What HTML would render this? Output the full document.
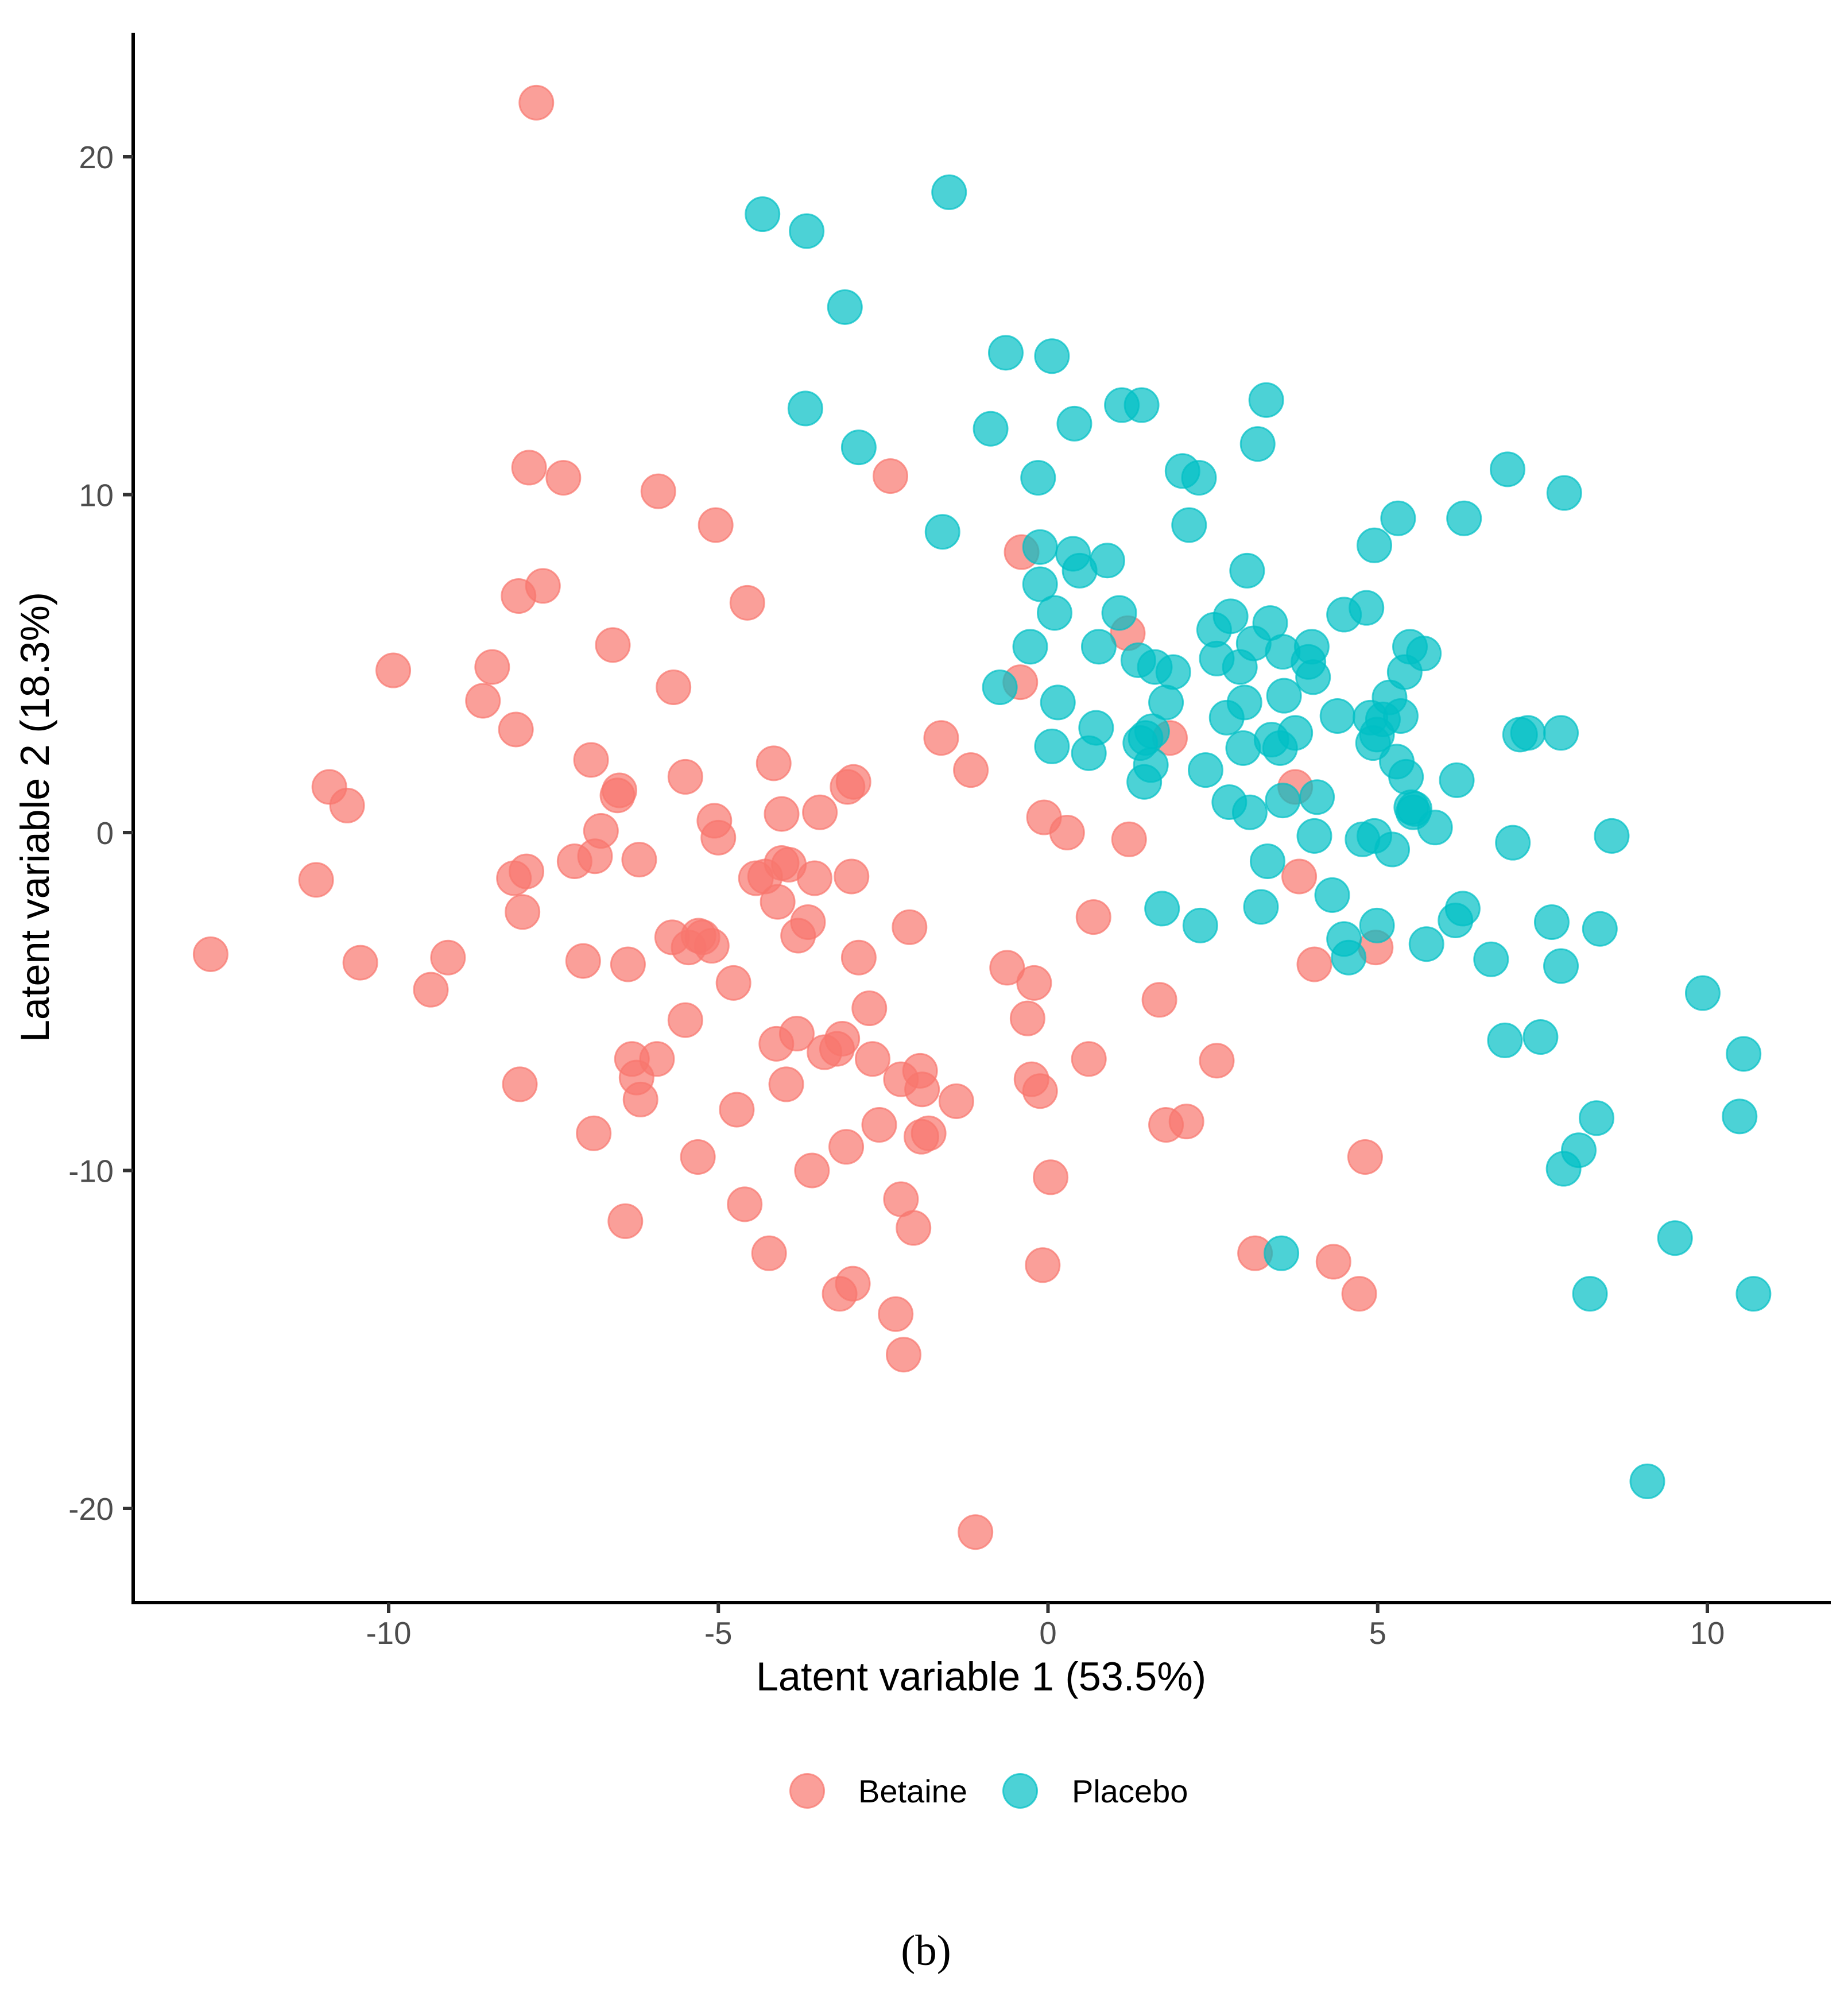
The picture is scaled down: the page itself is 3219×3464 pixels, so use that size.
<!DOCTYPE html>
<html lang="en">
<head>
<meta charset="utf-8">
<title>Latent variable scatter plot</title>
<style>
html,body{margin:0;padding:0;background:#fff;}
svg{display:block;}
text{font-family:"Liberation Sans",sans-serif;}
</style>
</head>
<body>
<svg id="chart" xmlns="http://www.w3.org/2000/svg" width="3219" height="3464" viewBox="0 0 3219 3464">
<rect width="3219" height="3464" fill="#fff"/>
<g id="points"></g>
<g id="axes"></g>
<text x="1709" y="2944" font-size="70.2" text-anchor="middle" fill="#000">Latent variable 1 (53.5%)</text>
<text transform="translate(85 1423) rotate(-90)" font-size="70.2" text-anchor="middle" fill="#000">Latent variable 2 (18.3%)</text>
<g>
<g>
<circle cx="1406" cy="3119" r="29.5" fill="#F8766D" fill-opacity="0.7" stroke="#F8766D" stroke-opacity="0.7" stroke-width="3"/>
<text x="1495" y="3139" font-size="56" fill="#000">Betaine</text>
</g>
<g>
<circle cx="1777" cy="3119" r="29.5" fill="#00BFC4" fill-opacity="0.7" stroke="#00BFC4" stroke-opacity="0.7" stroke-width="3"/>
<text x="1867" y="3139" font-size="56" fill="#000">Placebo</text>
</g>
</g>
<text x="1613" y="3422" font-size="75" text-anchor="middle" fill="#000" style="font-family:'Liberation Serif',serif">(b)</text>
</svg>
<script>
const betaineLv1 = [-7.76,-7.87,-7.35,-5.91,-5.04,-2.39,-0.4,-4.56,-7.66,-8.03,-6.6,-9.93,-8.43,-5.68,-8.57,-8.07,-6.93,-5.5,-4.16,-1.62,-1.17,-0.42,1.21,1.85,3.75,-10.9,-10.63,-6.5,-6.53,-3.04,-2.95,-4.04,-3.46,-5.06,-5.0,-6.78,-7.18,-6.87,-6.2,-0.06,0.29,1.23,-11.1,-8.1,-7.91,-7.97,-4.43,-4.29,-4.04,-3.93,-3.54,-2.98,-4.1,-3.64,-3.79,-2.1,0.69,3.81,-12.7,-10.43,-9.1,-9.36,-7.05,-6.37,-5.7,-5.45,-5.3,-5.24,-5.1,-4.77,-2.87,-0.62,-0.21,-0.31,1.69,4.04,4.97,-2.71,-5.5,-3.81,-4.12,-3.12,-3.2,-3.39,-2.66,-6.31,-5.93,-6.24,-6.18,-8.01,-3.97,-2.23,-1.94,-1.91,-1.39,-0.25,-0.12,0.62,2.56,-6.89,-4.72,-2.56,-3.06,-1.92,-1.81,1.79,2.1,4.81,-5.31,-3.58,0.04,-2.23,-4.6,-2.04,-6.41,-4.23,3.14,4.33,-0.08,-2.96,-3.16,4.72,-2.31,-2.19,-1.1];
const betaineLv2 = [21.6,10.8,10.5,10.1,9.1,10.55,8.3,6.8,7.3,7.0,5.55,4.8,4.9,4.3,3.9,3.05,2.15,1.65,2.05,2.8,1.85,4.45,5.9,2.8,1.35,1.35,0.8,1.25,1.1,1.35,1.5,0.55,0.6,0.35,-0.15,0.05,-0.85,-0.7,-0.8,0.45,0,-0.2,-1.4,-1.35,-1.15,-2.35,-1.35,-1.3,-0.9,-0.95,-1.35,-1.3,-2.05,-2.65,-3.05,-2.8,-2.5,-1.3,-3.6,-3.85,-3.7,-4.65,-3.8,-3.9,-3.1,-3.4,-3.05,-3.1,-3.35,-4.45,-3.7,-4.0,-4.45,-5.5,-4.95,-3.9,-3.4,-5.2,-5.55,-5.95,-6.25,-6.1,-6.4,-6.5,-6.7,-6.7,-6.7,-7.25,-7.9,-7.45,-7.45,-7.3,-7.05,-7.6,-7.95,-7.3,-7.65,-6.7,-6.75,-8.9,-8.2,-8.65,-9.3,-9.0,-8.9,-8.65,-8.55,-9.6,-9.6,-10.0,-10.2,-10.85,-11.0,-11.7,-11.5,-12.45,-12.45,-12.7,-12.8,-13.35,-13.65,-13.65,-14.25,-15.45,-20.7];
const placeboLv1 = [-1.5,-4.33,-3.66,-3.08,-0.64,0.06,-3.68,-2.87,-0.87,0.4,1.12,1.42,3.31,3.18,-0.15,2.04,2.29,2.14,6.97,7.83,6.31,5.31,4.95,-1.6,-0.12,0.38,0.48,0.9,-0.12,3.02,0.1,1.08,-0.27,0.77,1.37,2.52,2.77,3.37,4.49,4.83,3.12,2.56,2.91,3.56,4.0,3.95,4.02,5.49,5.7,5.41,1.62,1.9,-0.73,0.15,1.79,2.98,3.58,5.18,4.39,2.71,4.89,5.08,5.35,0.73,1.58,1.48,1.4,3.75,3.39,2.96,3.52,4.99,4.93,7.16,7.28,7.78,0.06,0.62,1.56,1.46,2.39,5.29,5.43,6.2,2.75,3.06,3.56,4.08,5.51,5.56,5.54,5.87,4.04,4.77,4.95,5.22,7.05,8.55,3.33,4.31,1.73,2.31,3.23,6.29,6.18,7.64,8.37,4.99,4.49,4.56,5.74,6.72,7.78,9.93,10.55,6.93,7.47,8.32,10.49,8.05,7.82,9.51,3.54,8.22,10.7,9.09];
const placeboLv2 = [18.95,18.3,17.8,15.55,14.2,14.1,12.55,11.4,11.95,12.1,12.65,12.65,12.8,11.5,10.5,10.7,10.5,9.1,10.75,10.05,9.3,9.3,8.5,8.9,8.45,8.25,7.75,8.05,7.35,7.75,6.5,6.5,5.5,5.5,5.1,6.0,6.4,6.2,6.45,6.65,5.6,5.15,4.9,5.35,5.5,5.05,4.6,5.5,5.3,4.75,4.9,4.75,4.3,3.85,3.85,3.85,4.05,4.0,3.45,3.4,3.4,3.35,3.45,3.1,3.0,2.8,2.65,2.95,2.75,2.5,2.5,2.9,2.65,2.9,2.95,2.95,2.55,2.35,2.0,1.5,1.85,2.1,1.65,1.55,0.9,0.6,0.95,1.05,0.75,0.7,0.6,0.15,-0.1,-0.2,-0.1,-0.5,-0.3,-0.1,-0.85,-1.85,-2.25,-2.75,-2.2,-2.25,-2.6,-2.65,-2.85,-2.75,-3.15,-3.7,-3.3,-3.75,-3.95,-4.75,-6.55,-6.15,-6.05,-8.45,-8.4,-9.4,-9.95,-12.0,-12.45,-13.65,-13.65,-19.2];
const xTickValues = [-10,-5,0,5,10];
const yTickValues = [-20,-10,0,10,20];

const NS = 'http://www.w3.org/2000/svg';
const xScale = function (v) { return 1825.5 + 114.85 * v; };
const yScale = function (v) { return 1450 - 58.85 * v; };
const pointsLayer = document.getElementById('points');
const axesLayer = document.getElementById('axes');

function makeEl(tag, attrs) {
  const el = document.createElementNS(NS, tag);
  Object.keys(attrs).forEach(function (k) { el.setAttribute(k, attrs[k]); });
  return el;
}

function drawSeries(xs, ys, color, seriesName) {
  xs.forEach(function (xv, i) {
    const c = makeEl('circle', {
      cx: xScale(xv), cy: yScale(ys[i]), r: 29.5,
      fill: color, 'fill-opacity': 0.7,
      stroke: color, 'stroke-opacity': 0.7, 'stroke-width': 3
    });
    
    
    pointsLayer.appendChild(c);
  });
}
drawSeries(betaineLv1, betaineLv2, '#F8766D', 'betaine');
drawSeries(placeboLv1, placeboLv2, '#00BFC4', 'placebo');

const yAxisLine = makeEl('line', { x1: 232, y1: 57, x2: 232, y2: 2794, stroke: '#000', 'stroke-width': 6 });


axesLayer.appendChild(yAxisLine);

const xAxisLine = makeEl('line', { x1: 229, y1: 2791, x2: 3189, y2: 2791, stroke: '#000', 'stroke-width': 6 });


axesLayer.appendChild(xAxisLine);

xTickValues.forEach(function (v) {
  const t = makeEl('line', { x1: xScale(v), y1: 2791, x2: xScale(v), y2: 2809, stroke: '#333', 'stroke-width': 6 });
  
  
  axesLayer.appendChild(t);
  const l = makeEl('text', { x: xScale(v), y: 2863, 'font-size': 54.5, 'text-anchor': 'middle', fill: '#4d4d4d' });
  
  
  l.textContent = String(v);
  axesLayer.appendChild(l);
});

yTickValues.forEach(function (v) {
  const t = makeEl('line', { x1: 214, y1: yScale(v), x2: 232, y2: yScale(v), stroke: '#333', 'stroke-width': 6 });
  
  
  axesLayer.appendChild(t);
  const l = makeEl('text', { x: 198, y: yScale(v) + 20, 'font-size': 54.5, 'text-anchor': 'end', fill: '#4d4d4d' });
  
  
  l.textContent = String(v);
  axesLayer.appendChild(l);
});
</script>
</body>
</html>
